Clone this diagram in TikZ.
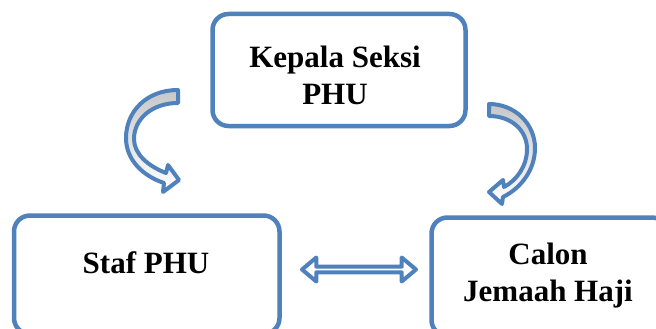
\documentclass[tikz,border=0pt]{standalone}
\usepackage{fontspec}
\setmainfont{Liberation Serif}
\usepackage{xcolor}
\usetikzlibrary{shapes.arrows,calc}
\definecolor{biru}{HTML}{4F81BD}

\begin{document}
\begin{tikzpicture}[x=1pt, y=-1pt,
	kotak/.style={draw=biru, line width=4.5pt, rounded corners=16pt, fill=white},
	teks/.style={font=\fontsize{31}{37}\selectfont\bfseries, align=center, inner sep=0pt, anchor=north},
	panah/.style={draw=biru, line width=4pt, line join=round, top color=black!22, middle color=white, bottom color=white}]
				\useasboundingbox (0,0) rectangle (656,329);
				\clip (0,0) rectangle (656,329);
				%Kotak
				\node[kotak, minimum width=253pt, minimum height=112pt] (kasi) at (339,70) {};
				\node[kotak, minimum width=265.5pt, minimum height=118.5pt] (staf) at (146.75,274.75) {};
				\node[kotak, minimum width=236.5pt, minimum height=118.5pt] (calon) at (549.75,276.75) {};
				%Teks
				\node[teks] (kasiT) at (335,46) {Kepala Seksi\\PHU};
				\node[teks] (stafT) at (146,251.5) {Staf PHU};
				\node[teks] (calonT) at (548,242.5) {Calon\\Jemaah Haji};
				%Panah kiri
				\draw[panah] (178,90) .. controls (146,90) and (126,112) .. (126,138)
					.. controls (126,160) and (143,176) .. (164,183)
					-- (163,192) -- (179,180) -- (168,165) -- (166,173)
					.. controls (148,166) and (134,154) .. (134,139)
					.. controls (134,119) and (152,103) .. (178,103) -- cycle;
				%Panah kanan
				\draw[panah] (489,104) .. controls (515,104) and (535,124) .. (535,148)
					.. controls (535,170) and (521,188) .. (503,197)
					-- (502,204) -- (489,192) -- (503,180) -- (504,187)
					.. controls (517,180) and (527,166) .. (527,149)
					.. controls (527,130) and (511,116) .. (489,116) -- cycle;
				%Panah dua arah
				\node[double arrow, draw=biru, line width=4pt, fill=white, line join=round, inner sep=0pt,
					minimum height=114pt, minimum width=24pt, double arrow head extend=6.5pt,
					double arrow tip angle=80] (dua) at ($(staf.east)!0.5!(calon.west)+(3.5,-6.25)$) {};
\end{tikzpicture}
\end{document}
